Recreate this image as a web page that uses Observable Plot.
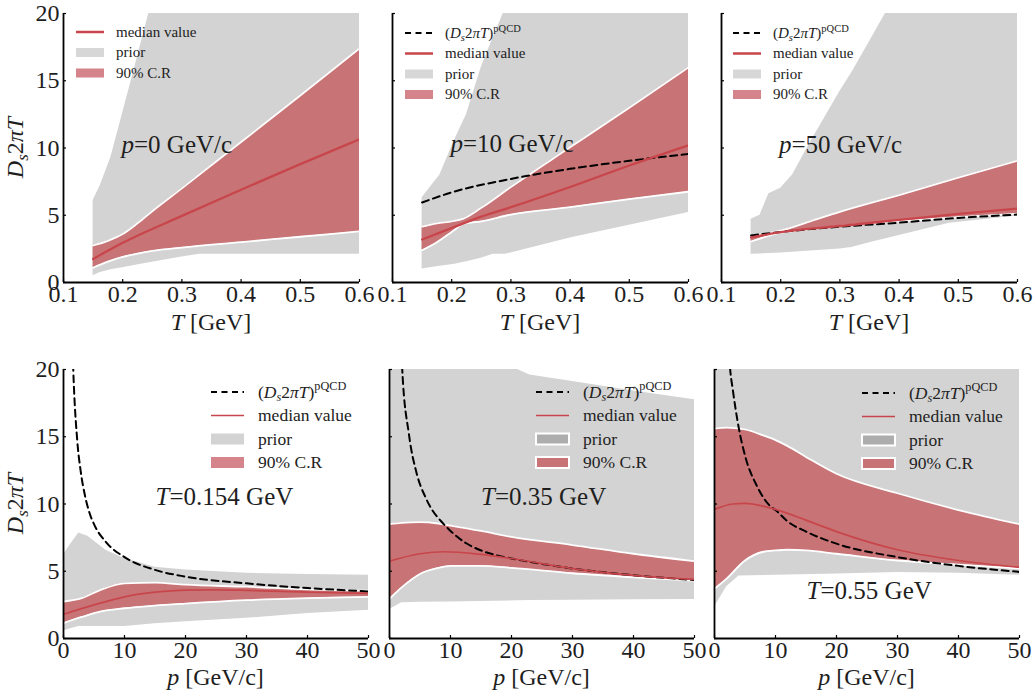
<!DOCTYPE html>
<html>
<head>
<meta charset="utf-8">
<script src="https://cdn.jsdelivr.net/npm/d3@7"></script>
<script src="https://cdn.jsdelivr.net/npm/@observablehq/plot@0.6"></script>
<style>
  html, body { margin: 0; background: #fff; }
  #fig { position: relative; width: 1035px; height: 698px; overflow: hidden; }
  #fig svg { position: absolute; overflow: visible; }
</style>
</head>
<body>
<div id="fig"></div>
<script>
// ---------------------------------------------------------------------------
// Spatial diffusion coefficient D_s 2πT: prior range, 90% credible region,
// posterior median and the pQCD reference.
// Bands are rows of [x, lower, upper]; curves are rows of [x, value].
// ---------------------------------------------------------------------------

// --- temperature scans (T in GeV) at fixed momentum ---
const priorP0 = [[0.15,0.5,6.1],[0.162,0.75,7.2],[0.18,0.95,9.3],[0.2,1.1,12.6],[0.224,1.3,16.6],[0.25,1.5,21],[0.3,1.9,28],[0.33,2.1,32],[0.6,2.1,60]];
const crP0 = [[0.15,1.1,2.75],[0.175,1.55,3.1],[0.2,1.9,3.6],[0.225,2.15,4.4],[0.25,2.35,5.3],[0.3,2.6,7.0],[0.4,3.0,10.45],[0.5,3.4,13.9],[0.6,3.8,17.4]];
const medianP0 = [[0.15,1.75],[0.2,2.95],[0.3,4.95],[0.4,6.9],[0.5,8.8],[0.6,10.65]];

const priorP10 = [[0.15,1.0,6.3],[0.18,1.2,8.0],[0.205,1.35,10.6],[0.225,1.55,12.5],[0.25,1.8,16.0],[0.27,2.1,18.2],[0.29,2.1,20.3],[0.3,2.2,22],[0.35,2.75,30],[0.4,3.3,38],[0.5,4.25,50],[0.6,5.2,60]];
const crP10 = [[0.15,2.4,4.15],[0.175,3.0,4.4],[0.2,3.75,4.55],[0.22,4.35,4.75],[0.25,4.55,5.55],[0.3,5.05,7.1],[0.4,5.6,10.05],[0.5,6.2,13.0],[0.6,6.75,16.0]];
const medianP10 = [[0.15,3.2],[0.2,4.05],[0.25,4.9],[0.3,5.6],[0.4,7.1],[0.5,8.7],[0.6,10.2]];
const pqcdP10 = [[0.15,5.95],[0.2,6.7],[0.3,7.7],[0.4,8.45],[0.5,9.05],[0.6,9.55]];

const priorP50 = [[0.15,2.1,4.7],[0.165,2.12,5.0],[0.18,2.15,6.6],[0.2,2.2,7.0],[0.22,2.25,8.0],[0.25,2.35,10.4],[0.3,2.5,14.2],[0.32,2.6,15.6],[0.35,2.95,17.9],[0.4,3.5,21.8],[0.485,4.4,28],[0.6,4.95,36]];
const crP50 = [[0.15,3.05,3.45],[0.2,3.7,3.85],[0.25,3.95,4.55],[0.3,4.2,5.25],[0.4,4.55,6.5],[0.5,4.85,7.8],[0.6,5.1,9.05]];
const medianP50 = [[0.15,3.35],[0.2,3.75],[0.3,4.2],[0.4,4.65],[0.5,5.1],[0.6,5.5]];
const pqcdP50 = [[0.15,3.5],[0.2,3.75],[0.3,4.15],[0.4,4.45],[0.5,4.8],[0.6,5.05]];

// --- momentum scans (p in GeV/c) at fixed temperature ---
const priorT154 = [[0,0.55,6.2],[1,0.7,6.9],[2.5,0.9,7.85],[4,0.9,7.6],[7,0.9,6.55],[10,0.9,5.95],[15,1.1,5.3],[20,1.25,5.1],[30,1.5,4.85],[40,1.85,4.75],[50,2.1,4.7]];
const crT154 = [[0,1.15,2.75],[3,1.6,3.0],[6,2.0,3.6],[10,2.25,4.1],[15,2.45,4.15],[20,2.6,4.0],[30,2.85,3.85],[40,3.0,3.65],[50,3.1,3.55]];
const medianT154 = [[0,1.8],[5,2.5],[10,3.1],[15,3.45],[20,3.6],[25,3.62],[30,3.58],[40,3.45],[50,3.35]];
const pqcdT154 = [[1.4,23],[1.6,20],[2.24,14.8],[2.8,12.5],[3.44,10.8],[4.15,9.5],[5,8.5],[7,7.15],[10,6.05],[15,5.1],[20,4.6],[30,4.1],[40,3.75],[50,3.5]];

const priorT35 = [[0,2.15,20],[2,2.65,20],[5,2.7,20],[10,2.72,20],[21,2.8,20],[23,2.82,19.6],[30,2.85,19.1],[40,2.88,18.4],[50,2.9,17.75]];
const crT35 = [[0,2.95,8.5],[2,3.8,8.6],[5,4.8,8.65],[8,5.25,8.55],[10,5.4,8.4],[15,5.4,8.0],[20,5.25,7.55],[30,4.85,6.95],[40,4.55,6.3],[50,4.3,5.75]];
const medianT35 = [[0,5.75],[5,6.3],[9,6.45],[15,6.25],[20,5.95],[30,5.2],[40,4.7],[50,4.4]];
const pqcdT35 = [[1.9,22],[2.09,20],[3.18,15.2],[4.5,12.2],[5.9,10.5],[7,9.55],[8.5,8.7],[10,8.0],[12.5,7.1],[15,6.55],[20,5.95],[25,5.55],[30,5.2],[40,4.7],[50,4.35]];

const priorT55 = [[0,2.35,20],[2,3.85,20],[4,4.65,20],[10,4.7,20],[20,4.8,20],[30,4.9,20],[40,4.85,20],[50,4.7,20]];
const crT55 = [[0,3.7,15.6],[2,4.45,15.68],[5,5.8,15.55],[8,6.45,15.1],[10,6.55,14.75],[12,6.6,14.3],[15,6.55,13.5],[20,6.3,12.25],[30,5.8,10.8],[40,5.5,9.55],[50,5.2,8.5]];
const medianT55 = [[0,9.6],[3,10.0],[5,10.05],[10,9.6],[15,8.8],[20,7.95],[30,6.6],[40,5.8],[50,5.3]];
const pqcdT55 = [[2.4,21],[2.57,20],[3,18.5],[4,15.6],[5,13.6],[7,11.3],[9,9.9],[10,9.55],[12,8.7],[15,7.95],[20,7.05],[30,6.05],[40,5.4],[50,4.95]];

// --- axis ticks and panel annotations ---
const tTicks = [0.1, 0.2, 0.3, 0.4, 0.5, 0.6];
const pTicks = [0, 10, 20, 30, 40, 50];
const yTicks = [0, 5, 10, 15, 20];
const notes = [
  {x: 0.198, y: 10.2, text: "p=0 GeV/c"},
  {x: 0.198, y: 10.3, text: "p=10 GeV/c"},
  {x: 0.197, y: 10.2, text: "p=50 GeV/c"},
  {x: 15.1, y: 10.5, text: "T=0.154 GeV"},
  {x: 15.0, y: 10.5, text: "T=0.35 GeV"},
  {x: 15.1, y: 3.5, text: "T=0.55 GeV"}
];

// ---------------------------------------------------------------------------
const SERIF = "'Liberation Serif', 'DejaVu Serif', serif";
const INK = "#1e1e1e";
const C = {prior: "#d3d3d3", priorDark: "#adadad", cr: "#c87476", crLight: "#d4848a", median: "#c8464b"};
const fig = document.getElementById("fig");

// Writes a string made of [chunk, style] parts (italic / sub / sup) into an SVG text node.
function richText(sel, parts, fs) {
  let shift = 0;
  for (const [s, st] of parts) {
    const target = st.includes("sub") ? 0.22 * fs : st.includes("sup") ? -0.42 * fs : 0;
    const ts = sel.append("tspan").text(s);
    if (target !== shift) ts.attr("dy", target - shift);
    shift = target;
    if (st.includes("i")) ts.attr("font-style", "italic");
    if (st.includes("sub") || st.includes("sup")) ts.attr("font-size", fs * 0.7);
  }
}
const dsLabel = [["D", "i"], ["s", "isub"], ["2", ""], ["π", "i"], ["T", "i"]];
const pqcdLabel = [["(", ""], ["D", "i"], ["s", "isub"], ["2", ""], ["π", "i"], ["T", "i"], [")", ""], ["pQCD", "sup"]];

const X = d => d[0], LO = d => d[1], HI = d => d[2], V = d => d[1];

function drawPanel(cfg) {
  const mL = 45, mR = 22, mT = 15, mB = 40;
  const bottom = cfg.row === 1;
  const marks = [
    Plot.areaY(cfg.prior, {x: X, y1: LO, y2: HI, fill: C.prior, clip: true}),
    Plot.areaY(cfg.cr, {x: X, y1: LO, y2: HI, fill: C.cr, curve: "monotone-x", clip: true}),
    Plot.lineY(cfg.cr, {x: X, y: LO, stroke: "white", strokeWidth: 1.8, curve: "monotone-x", clip: true}),
    Plot.lineY(cfg.cr, {x: X, y: HI, stroke: "white", strokeWidth: 1.8, curve: "monotone-x", clip: true})
  ];
  if (cfg.pqcd) marks.push(Plot.lineY(cfg.pqcd, {x: X, y: V, stroke: "black", strokeWidth: 2, strokeDasharray: "7,4.5", curve: "monotone-x", clip: true}));
  marks.push(
    Plot.lineY(cfg.median, {x: X, y: V, stroke: C.median, strokeWidth: bottom ? 1.7 : 2.3, curve: "monotone-x", clip: true}),
    Plot.ruleX([cfg.xDomain[0]], {stroke: "black", strokeWidth: 1.8}),
    Plot.ruleY([0], {stroke: "black", strokeWidth: 1.8}),
    Plot.axisX(cfg.xTicks, {tickSize: -3, tickPadding: 5, fontSize: 24, label: null, strokeWidth: 1.2, fill: INK}),
    Plot.axisY(yTicks, {tickSize: -3, tickPadding: 7, fontSize: 24, label: null, strokeWidth: 1.2, fill: INK,
      tickFormat: cfg.col === 0 ? d => String(d) : () => ""}),
    Plot.text([cfg.note], {x: "x", y: "y", text: "text", textAnchor: "start", fontSize: 25, fill: INK})
  );
  const svg = Plot.plot({
    width: mL + cfg.w + mR,
    height: mT + cfg.h + mB,
    marginLeft: mL, marginRight: mR, marginTop: mT, marginBottom: mB,
    x: {domain: cfg.xDomain},
    y: {domain: [0, 20]},
    style: {background: "transparent", overflow: "visible", fontFamily: SERIF, fontSize: "24px", color: "black"},
    marks
  });
  svg.style.left = (cfg.x0 - mL) + "px";
  svg.style.top = (cfg.y0 - mT) + "px";
  // italic variable name at the start of the annotation
  d3.select(svg).selectAll('g[aria-label="text"] text').each(function () {
    const s = this.textContent;
    const t = d3.select(this).text(null);
    richText(t, [[s[0], "i"], [s.slice(1), ""]], 25);
  });
  fig.appendChild(svg);
}

const TOP = {y0: 13, h: 269, w: 296, cols: [63, 392, 721]};
const BOT = {y0: 369, h: 269, w: 305, cols: [63, 389, 714]};

const panels = [
  {row: 0, col: 0, prior: priorP0, cr: crP0, median: medianP0, pqcd: null, note: notes[0]},
  {row: 0, col: 1, prior: priorP10, cr: crP10, median: medianP10, pqcd: pqcdP10, note: notes[1]},
  {row: 0, col: 2, prior: priorP50, cr: crP50, median: medianP50, pqcd: pqcdP50, note: notes[2]},
  {row: 1, col: 0, prior: priorT154, cr: crT154, median: medianT154, pqcd: pqcdT154, note: notes[3]},
  {row: 1, col: 1, prior: priorT35, cr: crT35, median: medianT35, pqcd: pqcdT35, note: notes[4]},
  {row: 1, col: 2, prior: priorT55, cr: crT55, median: medianT55, pqcd: pqcdT55, note: notes[5]}
];
for (const p of panels) {
  const L = p.row === 0 ? TOP : BOT;
  drawPanel({...p, x0: L.cols[p.col], y0: L.y0, w: L.w, h: L.h,
    xDomain: p.row === 0 ? [0.1, 0.6] : [0, 50], xTicks: p.row === 0 ? tTicks : pTicks});
}

// --- overlay: axis titles and legends ---
const ov = d3.select(fig).append("svg").attr("width", 1035).attr("height", 698)
  .style("left", "0px").style("top", "0px").style("pointer-events", "none")
  .attr("font-family", SERIF).attr("fill", INK);

for (const L of [TOP, BOT]) {
  const yl = ov.append("text").attr("font-size", 24).attr("text-anchor", "middle")
    .attr("transform", `translate(23,${L.y0 + L.h / 2}) rotate(-90)`);
  richText(yl, dsLabel, 24);
  L.cols.forEach(x0 => {
    const xl = ov.append("text").attr("font-size", 24).attr("text-anchor", "middle")
      .attr("x", x0 + L.w / 2).attr("y", L === TOP ? 330 : 685);
    richText(xl, L === TOP ? [["T", "i"], [" [GeV]", ""]] : [["p", "i"], [" [GeV/c]", ""]], 24);
  });
}

function legend(x0, y0, items, o) {
  items.forEach((it, i) => {
    const y = y0 + i * o.step;
    if (it === "pqcd") {
      ov.append("line").attr("x1", x0).attr("x2", x0 + o.hw).attr("y1", y).attr("y2", y)
        .attr("stroke", "black").attr("stroke-width", 2).attr("stroke-dasharray", "6,4.5");
    } else if (it === "median") {
      ov.append("line").attr("x1", x0).attr("x2", x0 + o.hw).attr("y1", y).attr("y2", y)
        .attr("stroke", C.median).attr("stroke-width", o.lw);
    } else {
      const fill = it === "prior" ? o.priorFill : o.crFill;
      ov.append("rect").attr("x", x0).attr("y", y - o.ph / 2).attr("width", o.hw).attr("height", o.ph)
        .attr("fill", fill).attr("stroke", o.edge ? "white" : "none").attr("stroke-width", 2);
    }
    const t = ov.append("text").attr("x", x0 + o.tx).attr("y", y).attr("dy", "0.32em")
      .attr("font-size", o.fs).attr("fill", "#222");
    if (it === "pqcd") richText(t, pqcdLabel, o.fs);
    else t.text({median: "median value", prior: "prior", cr: "90% C.R"}[it]);
  });
}
const topLeg = {step: 20.5, hw: 28, ph: 9, lw: 2.5, fs: 15, tx: 40, priorFill: "#d7d7d7", crFill: C.crLight, edge: false};
const botLeg = {step: 23.5, hw: 33, ph: 11, lw: 1.7, fs: 17.5, tx: 47, priorFill: C.prior, crFill: C.crLight, edge: false};
legend(TOP.cols[0] + 13, 32, ["median", "prior", "cr"], topLeg);
legend(TOP.cols[1] + 13, 33, ["pqcd", "median", "prior", "cr"], topLeg);
legend(TOP.cols[2] + 12, 33, ["pqcd", "median", "prior", "cr"], topLeg);
legend(BOT.cols[0] + 148, 392, ["pqcd", "median", "prior", "cr"], botLeg);
legend(BOT.cols[1] + 147, 392, ["pqcd", "median", "prior", "cr"], {...botLeg, priorFill: C.priorDark, crFill: C.cr, edge: true});
legend(BOT.cols[2] + 148, 393, ["pqcd", "median", "prior", "cr"], {...botLeg, priorFill: C.priorDark, crFill: C.cr, edge: true});
</script>
</body>
</html>
